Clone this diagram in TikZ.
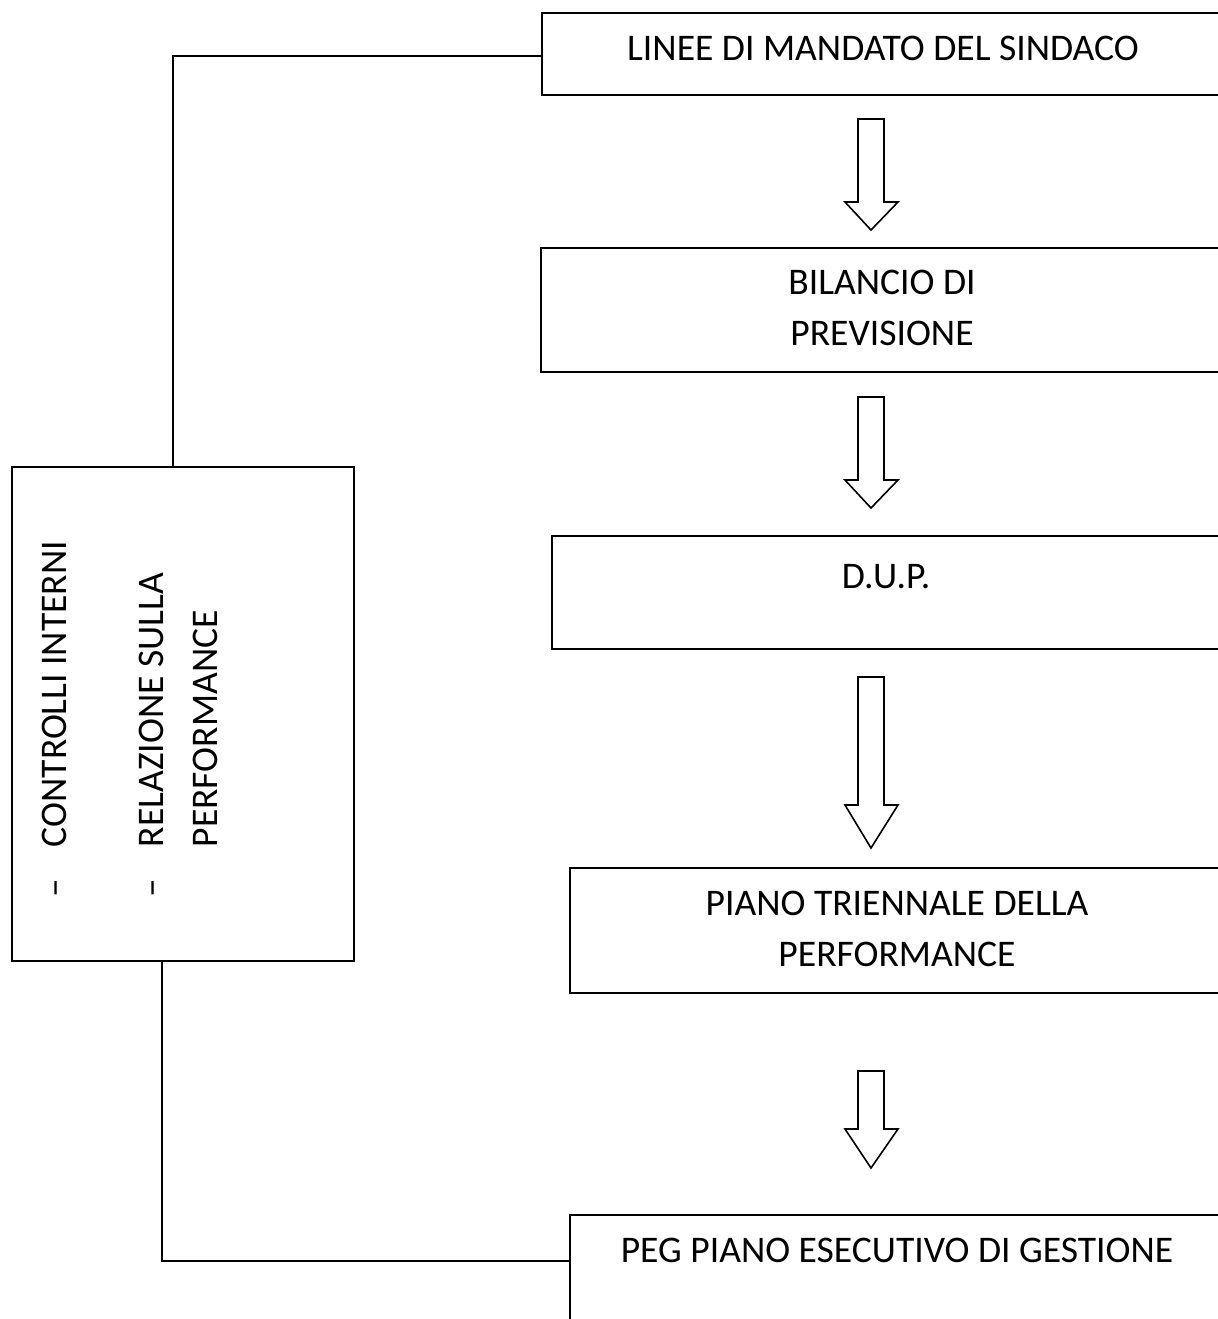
\documentclass[tikz,border=0pt]{standalone}
\usepackage{fontspec}
\setmainfont{Carlito}
\usetikzlibrary{calc}

\begin{document}
\begin{tikzpicture}[x=0.5pt,y=-0.5pt,line width=0.8pt,
  every node/.style={font=\fontsize{18.8}{25.5}\selectfont},
  stage/.style={draw,line width=1pt,rectangle,anchor=north west,inner sep=0pt,minimum width=345pt},
  label/.style={anchor=base,inner sep=0pt},
  sidetext/.style={rotate=90,anchor=base west,inner sep=0pt}]
\useasboundingbox (0,0) rectangle (1218,1319);
\clip (0,0) rectangle (1218,1319);
% boxes on the right
\node[stage,minimum height=41pt] (mandato) at (541,12) {};
\node[stage,minimum height=62pt] (bilancio) at (540,247) {};
\node[stage,minimum height=56.5pt] (dup) at (551,535) {};
\node[stage,minimum height=62.5pt] (piano) at (569,867) {};
\node[stage,minimum height=70pt] (peg) at (569,1214) {};
\node[label] (tmandato) at (883,60) {LINEE DI MANDATO DEL SINDACO};
\node[label] (tbil1) at (882,294) {BILANCIO DI};
\node[label] (tbil2) at (882,345) {PREVISIONE};
\node[label] (tdup) at (886,588) {D.U.P.};
\node[label] (tpiano1) at (897,915) {PIANO TRIENNALE DELLA};
\node[label] (tpiano2) at (897,966) {PERFORMANCE};
\node[label] (tpeg) at (897,1262) {PEG PIANO ESECUTIVO DI GESTIONE};
% box on the left
\node[draw,line width=1pt,rectangle,anchor=north west,inner sep=0pt,minimum width=171pt,minimum height=247pt] (controlli) at (11,466) {};
\node[sidetext] (dash1) at (67,898) {–};
\node[sidetext] (tcontr) at (67,848) {CONTROLLI INTERNI};
\node[sidetext] (dash2) at (163,898) {–};
\node[sidetext] (trel1) at (163,848) {RELAZIONE SULLA};
\node[sidetext] (trel2) at (217,848) {PERFORMANCE};
% hollow arrows
\foreach \top/\base/\tip in {119/202/230,397/480/508,677/805/848,1071/1129/1168}
  \draw[line join=miter] (858,\top) -- (884,\top) -- (884,\base) -- (898,\base) -- (871,\tip)
    -- (845,\base) -- (858,\base) -- cycle;
% connectors
\draw ([xshift=-5pt]controlli.north) |- ($(mandato.north west)+(0,44)$);
\draw ([xshift=-10.5pt]controlli.south) |- ($(peg.north west)+(0,47)$);
\end{tikzpicture}
\end{document}
